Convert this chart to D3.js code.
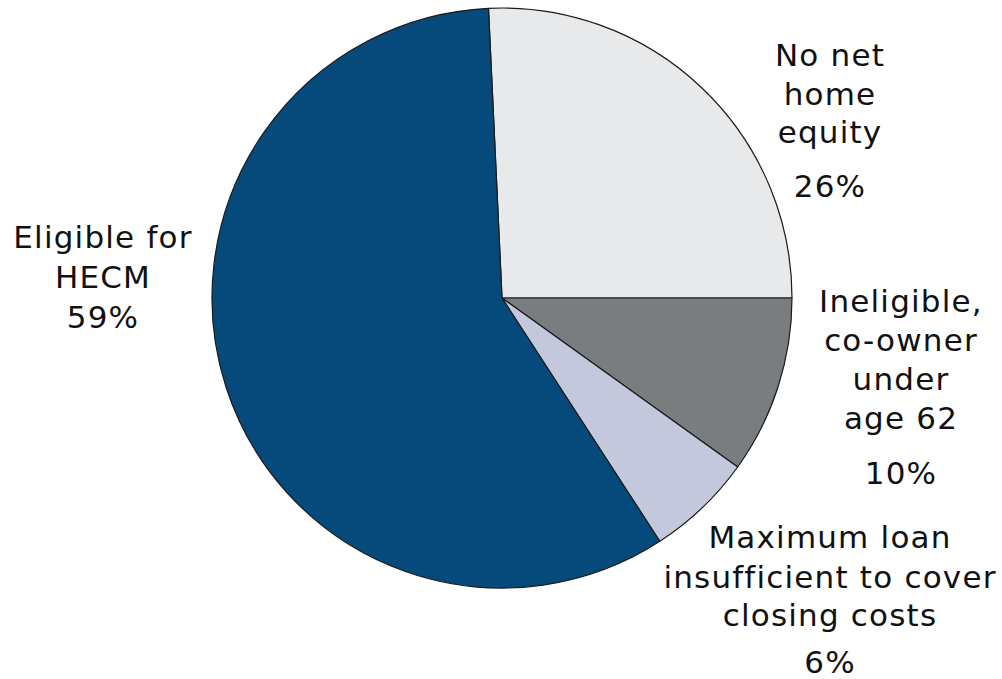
<!DOCTYPE html>
<html>
<head>
<meta charset="utf-8">
<script src="https://cdn.jsdelivr.net/npm/d3@7"></script>
<style>
  body { margin: 0; background: #fff; }
  text { font-family: "DejaVu Sans", sans-serif; font-size: 31px; fill: #111; letter-spacing: 1.2px; }
</style>
</head>
<body>
<div id="chart"></div>
<script>
// slice data, clockwise from the top
var categories = ['No net home equity', 'Ineligible, co-owner under age 62',
                  'Maximum loan insufficient to cover closing costs', 'Eligible for HECM'];
var values = [26, 10, 6, 59];
var colors = ['#e8e9eb', '#7a7d80', '#c3c8dc', '#054a7a'];
var percentLabels = ['26%', '10%', '6%', '59%'];

// label lines and where they sit
var labelLines = [
  ['No net', 'home', 'equity'],
  ['Ineligible,', 'co-owner', 'under', 'age 62'],
  ['Maximum loan', 'insufficient to cover', 'closing costs'],
  ['Eligible for', 'HECM']
];

var width = 1002, height = 679;
var cx = 502, cy = 298, radius = 290;

var svg = d3.select('#chart').append('svg')
  .attr('width', width)
  .attr('height', height);

var total = d3.sum(values);
// first slice ends exactly at 3 o'clock
var start = Math.PI / 2 - values[0] / total * 2 * Math.PI;

var pie = d3.pie().sort(null).value(function (d) { return d; })
  .startAngle(start).endAngle(start + 2 * Math.PI);
var arc = d3.arc().innerRadius(0).outerRadius(radius);

var g = svg.append('g').attr('transform', 'translate(' + cx + ',' + cy + ')');
g.selectAll('path')
  .data(pie(values))
  .enter().append('path')
  .attr('d', arc)
  .attr('fill', function (d, i) { return colors[i]; })
  .attr('stroke', '#1a1a1a')
  .attr('stroke-width', 1.2)
  .attr('stroke-linejoin', 'round');

// label placement (x centre, baselines of the text lines, baseline of the percent)
var labelPos = [
  { x: 830, lines: [66, 105, 143], pct: 197 },
  { x: 901, lines: [312, 351, 390, 429], pct: 484 },
  { x: 830, lines: [548, 588, 626], pct: 673 },
  { x: 103, lines: [248, 288], pct: 328 }
];

labelLines.forEach(function (lines, i) {
  var p = labelPos[i];
  var lg = svg.append('g').attr('class', 'label');
  lines.forEach(function (t, j) {
    lg.append('text')
      .attr('x', p.x)
      .attr('y', p.lines[j])
      .attr('text-anchor', 'middle')
      .text(t);
  });
  lg.append('text')
    .attr('x', p.x)
    .attr('y', p.pct)
    .attr('text-anchor', 'middle')
    .text(percentLabels[i]);
});
</script>
</body>
</html>
